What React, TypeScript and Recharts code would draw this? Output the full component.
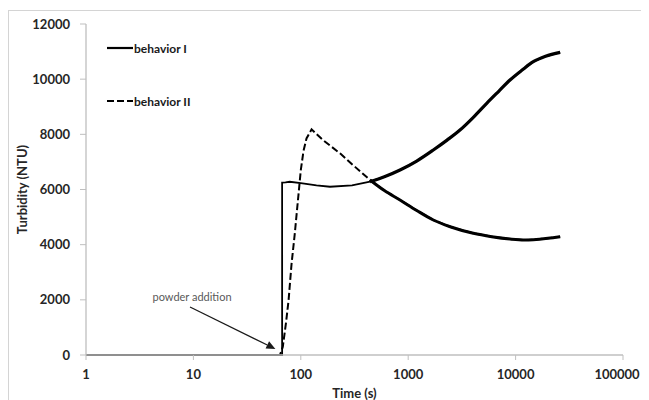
import React from "react";
import { LineChart, Line, XAxis, YAxis, Legend, ReferenceLine } from "recharts";

// ---- data ----
const timeTicks = [1, 10, 100, 1000, 10000, 100000];
const turbidityTicks = [0, 2000, 4000, 6000, 8000, 10000, 12000];

const behaviorITime = [1, 67, 67, 72, 79, 100, 140, 187, 300, 441, 600, 839, 1200, 1713, 2300, 3034, 4000, 5383, 7000, 8870, 11500, 14620, 19000, 26000];
const behaviorIValue = [0, 0, 6250, 6260, 6280, 6230, 6150, 6100, 6150, 6282, 6460, 6706, 7030, 7431, 7790, 8156, 8600, 9124, 9570, 9969, 10330, 10632, 10830, 10972];

const behaviorIITime = [1, 64, 68, 73, 77, 82, 88, 94, 100, 106, 113, 126, 160, 232, 320, 441, 600, 839, 1200, 1713, 2500, 4040, 6000, 8870, 12000, 14620, 20000, 26000];
const behaviorIIValue = [0, 0, 300, 1200, 2000, 3300, 4420, 5600, 6700, 7400, 7850, 8180, 7800, 7310, 6820, 6344, 5960, 5619, 5240, 4894, 4640, 4411, 4290, 4205, 4170, 4180, 4230, 4290];

const seriesNames = ["behavior I", "behavior II"];
const annotationText = "powder addition";
const arrowFrom = { t: 9.3, v: 1740 };
const arrowTo = { t: 58, v: 220 };

const behaviorI = behaviorITime.map((t, i) => ({ t, v: behaviorIValue[i] }));
const behaviorII = behaviorIITime.map((t, i) => ({ t, v: behaviorIIValue[i] }));

const CHART_W = 633;
const CHART_H = 392;
const FONT = "Lato, 'Liberation Sans', sans-serif";
const tickStyle = { fontFamily: FONT, fontWeight: 700, fontSize: 13, fill: "#262626" };

const XTick = (props: any) => {
  const { x, y, payload } = props;
  const label = String(payload.value);
  const halfW = label.length * 3.8;
  const cx = Math.min(x, CHART_W - 1 - halfW);
  return (
    <text x={cx} y={y} dy="0.71em" textAnchor="middle" {...tickStyle}>
      {label}
    </text>
  );
};

const ArrowShape = (props: any) => {
  const { x1, y1, x2, y2 } = props;
  if ([x1, y1, x2, y2].some((n) => typeof n !== "number" || isNaN(n))) return null;
  const ang = Math.atan2(y2 - y1, x2 - x1);
  const len = 9;
  const w = 4;
  const bx = x2 - len * Math.cos(ang);
  const by = y2 - len * Math.sin(ang);
  const px = -Math.sin(ang) * w;
  const py = Math.cos(ang) * w;
  return (
    <g>
      <line x1={x1} y1={y1} x2={bx} y2={by} stroke="#1a1a1a" strokeWidth={1.3} />
      <polygon points={`${x2},${y2} ${bx + px},${by + py} ${bx - px},${by - py}`} fill="#1a1a1a" />
      <text x={x1 + 2} y={y1 - 11} textAnchor="middle" dominantBaseline="central" fontFamily={FONT} fontSize={11} fill="#595959">
        {annotationText}
      </text>
    </g>
  );
};

const LegendContent = () => (
  <div style={{ fontFamily: FONT, fontWeight: 700, fontSize: 12, color: "#1a1a1a" }}>
    <div style={{ display: "flex", alignItems: "center", height: 14 }}>
      <svg width={26} height={6}>
        <line x1={0} y1={3} x2={26} y2={3} stroke="#000" strokeWidth={2.2} />
      </svg>
      <span style={{ marginLeft: 1 }}>{seriesNames[0]}</span>
    </div>
    <div style={{ display: "flex", alignItems: "center", height: 14, marginTop: 39 }}>
      <svg width={26} height={6}>
        <line x1={0} y1={3} x2={26} y2={3} stroke="#000" strokeWidth={2.2} strokeDasharray="7 3" />
      </svg>
      <span style={{ marginLeft: 1 }}>{seriesNames[1]}</span>
    </div>
  </div>
);

export default function App() {
  return (
    <div style={{ position: "relative", width: CHART_W, height: CHART_H, overflow: "hidden", background: "#fff" }}>
      <div
        style={{
          position: "absolute",
          left: 0,
          top: 2,
          width: 800,
          height: 600,
          borderTop: "1.5px solid #d4d4d4",
          borderLeft: "1.5px solid #d4d4d4",
        }}
      />
      <LineChart width={CHART_W} height={CHART_H} margin={{ top: 16, right: 18, bottom: 0, left: 0 }}>
        <XAxis
          dataKey="t"
          type="number"
          scale="log"
          domain={[1, 100000]}
          ticks={timeTicks}
          allowDataOverflow
          height={45}
          axisLine={{ stroke: "#bfbfbf", strokeWidth: 1.3 }}
          tickLine={{ stroke: "#bfbfbf" }}
          tickSize={5}
          tickMargin={10}
          tick={XTick}
          label={(p: any) => {
            const vb = p.viewBox || {};
            return (
              <text x={vb.x + vb.width / 2} y={vb.y + 37.5} textAnchor="middle" dominantBaseline="central" fontFamily={FONT} fontWeight={700} fontSize={13} fill="#262626">
                Time (s)
              </text>
            );
          }}
        />
        <YAxis
          type="number"
          domain={[0, 12000]}
          ticks={turbidityTicks}
          width={78}
          axisLine={{ stroke: "#bfbfbf", strokeWidth: 1.3 }}
          tickLine={{ stroke: "#bfbfbf" }}
          tickSize={6}
          tickMargin={10}
          tick={tickStyle}
          label={(p: any) => {
            const vb = p.viewBox || {};
            const cx = 14;
            const cy = vb.y + vb.height / 2;
            return (
              <text x={cx} y={cy} transform={`rotate(-90 ${cx} ${cy})`} textAnchor="middle" dominantBaseline="central" fontFamily={FONT} fontWeight={700} fontSize={13} fill="#262626">
                Turbidity (NTU)
              </text>
            );
          }}
        />
        <Legend
          layout="horizontal"
          align="center"
          verticalAlign="middle"
          content={LegendContent}
          wrapperStyle={{ position: "absolute", left: 99, top: 33, width: 160, height: 80 }}
        />
        <ReferenceLine
          segment={[
            { x: arrowFrom.t, y: arrowFrom.v },
            { x: arrowTo.t, y: arrowTo.v },
          ]}
          shape={ArrowShape}
          ifOverflow="visible"
        />
        <Line
          data={behaviorII}
          dataKey="v"
          name={seriesNames[1]}
          type="linear"
          stroke="#000"
          strokeWidth={2}
          strokeDasharray="7 3"
          dot={false}
          isAnimationActive={false}
        />
        <Line
          data={behaviorII.filter((p) => p.t >= 441)}
          dataKey="v"
          name={seriesNames[1] + " (dense)"}
          legendType="none"
          type="monotone"
          stroke="#000"
          strokeWidth={3}
          dot={false}
          isAnimationActive={false}
        />
        <Line
          data={behaviorI}
          dataKey="v"
          name={seriesNames[0]}
          type="linear"
          stroke="#000"
          strokeWidth={1.8}
          dot={false}
          isAnimationActive={false}
        />
        <Line
          data={behaviorI.filter((p) => p.t >= 441)}
          dataKey="v"
          name={seriesNames[0] + " (dense)"}
          legendType="none"
          type="monotone"
          stroke="#000"
          strokeWidth={3.2}
          dot={false}
          isAnimationActive={false}
        />
      </LineChart>
    </div>
  );
}
